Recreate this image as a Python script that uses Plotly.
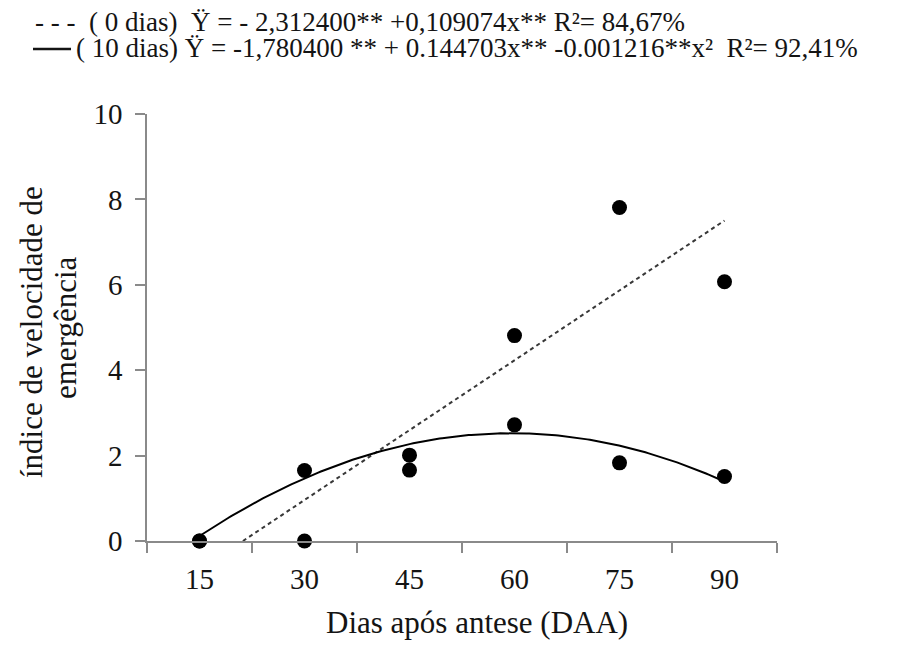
import numpy as np
import plotly.graph_objects as go

# Data
days = [15, 30, 45, 60, 75, 90]
ive_0dias = [0.0, 0.0, 1.66, 4.81, 7.81, 6.07]
ive_10dias = [0.0, 1.65, 2.01, 2.72, 1.83, 1.51]

# Regression coefficients as printed on the chart
lin_a, lin_b = -2.312400, 0.109074
quad_a, quad_b, quad_c = -1.780400, 0.144703, -0.001216

x_ticks = [15, 30, 45, 60, 75, 90]
y_ticks = [0, 2, 4, 6, 8, 10]
legend_line1 = "- - -  ( 0 dias)  Ÿ = - 2,312400** +0,109074x** R²= 84,67%"
legend_line2 = "( 10 dias) Ÿ = -1,780400 ** + 0.144703x** -0.001216**x²  R²= 92,41%"
x_title = "Dias após antese (DAA)"
y_title_1 = "índice de velocidade de"
y_title_2 = "emergência"

FONT = "Liberation Serif"
AX = "#8a8a8a"
TXT = "#141414"

# fitted curves
x_lin_start = -lin_a / lin_b
x_lin = np.linspace(x_lin_start, max(days), 50)
y_lin = lin_a + lin_b * x_lin
x_q = np.linspace(min(days), max(days), 200)
y_q = quad_a + quad_b * x_q + quad_c * x_q ** 2

fig = go.Figure()
fig.add_trace(go.Scatter(x=x_lin, y=y_lin, mode="lines",
                         line=dict(color="#383838", width=2, dash="4px,3.5px"),
                         showlegend=False, hoverinfo="skip"))
fig.add_trace(go.Scatter(x=x_q, y=y_q, mode="lines",
                         line=dict(color="#000000", width=2),
                         showlegend=False, hoverinfo="skip"))
fig.add_trace(go.Scatter(x=days, y=ive_0dias, mode="markers",
                         marker=dict(color="#000000", size=15),
                         cliponaxis=False, showlegend=False))
fig.add_trace(go.Scatter(x=days, y=ive_10dias, mode="markers",
                         marker=dict(color="#000000", size=15),
                         cliponaxis=False, showlegend=False))

W, H = 898, 652
OFF = 8  # page body margin
PX0, PX1, PY0, PY1 = 147, 777, 114, 541

def px_x(px):
    return (px - PX0) / (PX1 - PX0)

def px_y(py):
    return (PY1 - py) / (PY1 - PY0)

fig.update_layout(
    width=W, height=H,
    margin=dict(l=PX0 - OFF, r=W - PX1 + OFF, t=PY0 - OFF, b=H - PY1 + OFF, pad=0),
    paper_bgcolor="white", plot_bgcolor="white",
    font=dict(family=FONT, color=TXT, size=28),
    xaxis=dict(range=[7.5, 97.5], tickvals=x_ticks, ticks="",
               showgrid=False, zeroline=False,
               showline=True, linecolor=AX, linewidth=1.5,
               tickfont=dict(family=FONT, size=29, color=TXT),
               ticklabelstandoff=11,
               minor=dict(tickvals=[7.5, 22.5, 37.5, 52.5, 67.5, 82.5, 97.5],
                          ticks="outside", ticklen=10, tickwidth=1.5,
                          tickcolor=AX, showgrid=False)),
    yaxis=dict(range=[0, 10], tickvals=y_ticks, ticks="outside",
               ticklen=10, tickwidth=1.5, tickcolor=AX,
               showgrid=False, zeroline=False,
               showline=True, linecolor=AX, linewidth=1.5,
               tickfont=dict(family=FONT, size=29, color=TXT),
               ticklabelstandoff=7),
    annotations=[
        dict(text=x_title, xref="paper", yref="paper",
             x=px_x(477), y=px_y(622), xanchor="center", yanchor="middle",
             showarrow=False, font=dict(family=FONT, size=31, color=TXT)),
        dict(text=y_title_1, xref="paper", yref="paper", textangle=-90,
             x=px_x(31), y=px_y(332), xanchor="center", yanchor="middle",
             showarrow=False, font=dict(family=FONT, size=31, color=TXT)),
        dict(text=y_title_2, xref="paper", yref="paper", textangle=-90,
             x=px_x(65), y=px_y(328), xanchor="center", yanchor="middle",
             showarrow=False, font=dict(family=FONT, size=31, color=TXT)),
        dict(text=legend_line1, xref="paper", yref="paper",
             x=px_x(33), y=px_y(22), xanchor="left", yanchor="middle",
             showarrow=False, font=dict(family=FONT, size=27, color=TXT)),
        dict(text=legend_line2, xref="paper", yref="paper",
             x=px_x(74), y=px_y(48), xanchor="left", yanchor="middle",
             showarrow=False, font=dict(family=FONT, size=27, color=TXT)),
    ],
    shapes=[
        dict(type="line", xref="paper", yref="paper",
             x0=px_x(33), x1=px_x(71), y0=px_y(49), y1=px_y(49),
             line=dict(color=TXT, width=2.5)),
    ],
)

fig.write_html("out.html")
